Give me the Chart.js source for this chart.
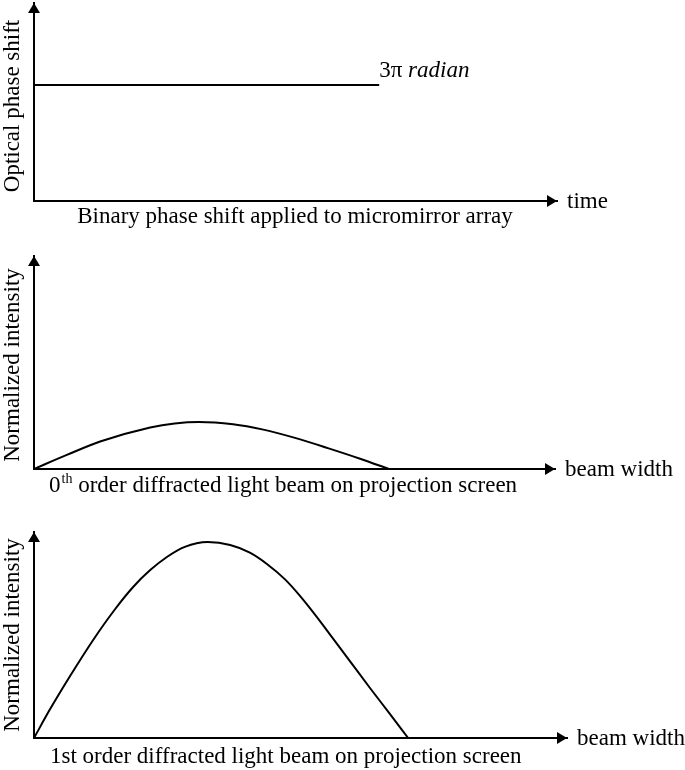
<!DOCTYPE html>
<html>
<head>
<meta charset="utf-8">
<script src="https://cdn.jsdelivr.net/npm/chart.js@4"></script>
<style>
  html, body { margin: 0; padding: 0; background: #ffffff; }
  body { width: 685px; height: 770px; position: relative; overflow: hidden; }
  canvas { position: absolute; left: 0; }
</style>
</head>
<body>
<canvas id="c1" width="685" height="240" style="top:0px"></canvas>
<canvas id="c2" width="685" height="260" style="top:240px"></canvas>
<canvas id="c3" width="685" height="270" style="top:500px"></canvas>
<script>
// ---- data (axis units: 0..100 of each axis length) ----
const phaseTime = [0, 66];
const phaseShift = [58.6, 58.6];

const beamPos0 = [0, 6.3, 12.7, 22.3, 27.0, 31.7, 38.2, 43.8, 50.1, 56.4, 62.6, 68.1];
const intensity0 = [0, 6.6, 12.9, 19.5, 21.4, 22.1, 21.0, 18.6, 14.6, 9.8, 4.8, 0];

const beamPos1 = [0, 3.0, 6.8, 11.1, 15.2, 18.6, 21.8, 25.0, 28.3, 32.6, 36.8, 40.5, 43.7, 47.1, 49.9, 52.9, 55.9, 59.3, 63.0, 66.8, 70.2];
const intensity1 = [0, 13.9, 30.2, 47.6, 62.5, 73.3, 81.5, 88.0, 92.8, 95.1, 93.7, 90.0, 84.5, 77.0, 69.0, 59.3, 49.0, 37.2, 24.4, 11.6, 0];

// ---- texts ----
const yTitles = ['Optical phase shift', 'Normalized intensity', 'Normalized intensity'];
const xEndLabels = ['time', 'beam width', 'beam width'];
const levelLabel = ['3\u03C0', 'radian'];
const caption1 = 'Binary phase shift applied to micromirror array';
const caption2 = ['0', 'th', ' order diffracted light beam on projection screen'];
const caption3 = '1st order diffracted light beam on projection screen';

const FONT = '"Liberation Serif", "Times New Roman", serif';

function pts(xs, ys) { return xs.map((x, i) => ({ x: x, y: ys[i] })); }

function arrowsAndTexts(opts) {
  return {
    id: 'arrows' + opts.idx,
    afterDraw(chart) {
      const ctx = chart.ctx;
      const a = chart.chartArea;
      ctx.save();
      ctx.fillStyle = '#000';
      // y arrow head
      ctx.beginPath();
      ctx.moveTo(a.left, a.top);
      ctx.lineTo(a.left - 6, a.top + 10);
      ctx.lineTo(a.left + 6, a.top + 10);
      ctx.closePath();
      ctx.fill();
      // x arrow head
      ctx.beginPath();
      ctx.moveTo(a.right, a.bottom);
      ctx.lineTo(a.right - 10, a.bottom - 6);
      ctx.lineTo(a.right - 10, a.bottom + 6);
      ctx.closePath();
      ctx.fill();
      // rotated y title
      ctx.font = '23px ' + FONT;
      ctx.textBaseline = 'alphabetic';
      ctx.textAlign = 'center';
      ctx.save();
      ctx.translate(19, opts.yTitleCenter);
      ctx.rotate(-Math.PI / 2);
      ctx.fillText(yTitles[opts.idx], 0, 0);
      ctx.restore();
      // x end label
      ctx.textAlign = 'left';
      ctx.fillText(xEndLabels[opts.idx], opts.endX, a.bottom + 7);
      // extra
      opts.extra(ctx, chart);
      ctx.restore();
    }
  };
}

function makeChart(id, xs, ys, pad, plugin) {
  return new Chart(document.getElementById(id), {
    type: 'line',
    data: {
      datasets: [{
        data: pts(xs, ys),
        borderColor: '#000',
        borderWidth: 2,
        pointRadius: 0,
        fill: false,
        cubicInterpolationMode: 'monotone'
      }]
    },
    options: {
      responsive: false,
      animation: false,
      devicePixelRatio: 1,
      layout: { padding: pad },
      plugins: { legend: { display: false }, tooltip: { enabled: false }, title: { display: false } },
      scales: {
        x: {
          type: 'linear', min: 0, max: 100,
          grid: { display: false, drawTicks: false },
          ticks: { display: false },
          border: { display: true, color: '#000', width: 2 }
        },
        y: {
          type: 'linear', min: 0, max: 100,
          grid: { display: false, drawTicks: false },
          ticks: { display: false },
          border: { display: true, color: '#000', width: 2 }
        }
      }
    },
    plugins: [plugin]
  });
}

// Panel 1
makeChart('c1', phaseTime, phaseShift, { left: 34, top: 3, right: 128, bottom: 39 },
  arrowsAndTexts({
    idx: 0, yTitleCenter: 106, endX: 567,
    extra(ctx, chart) {
      const xs = chart.scales.x, ys = chart.scales.y;
      const x = xs.getPixelForValue(phaseTime[phaseTime.length - 1]);
      const y = ys.getPixelForValue(phaseShift[phaseShift.length - 1]);
      ctx.textAlign = 'left';
      ctx.font = '23px ' + FONT;
      ctx.fillText(levelLabel[0], x, y - 8);
      const w = ctx.measureText(levelLabel[0] + ' ').width;
      ctx.font = 'italic 23px ' + FONT;
      ctx.fillText(levelLabel[1], x + w, y - 8);
      ctx.font = '23px ' + FONT;
      ctx.textAlign = 'center';
      ctx.fillText(caption1, 295, 223);
    }
  }));

// Panel 2
makeChart('c2', beamPos0, intensity0, { left: 34, top: 16, right: 130, bottom: 31 },
  arrowsAndTexts({
    idx: 1, yTitleCenter: 125, endX: 565,
    extra(ctx) {
      ctx.textAlign = 'left';
      let x = 49;
      const base = 252;
      ctx.font = '23px ' + FONT;
      ctx.fillText(caption2[0], x, base);
      x += ctx.measureText(caption2[0]).width;
      ctx.font = '14px ' + FONT;
      ctx.fillText(caption2[1], x + 1, base - 9);
      x += ctx.measureText(caption2[1]).width + 1;
      ctx.font = '23px ' + FONT;
      ctx.fillText(caption2[2], x, base);
    }
  }));

// Panel 3
makeChart('c3', beamPos1, intensity1, { left: 34, top: 32, right: 118, bottom: 32 },
  arrowsAndTexts({
    idx: 2, yTitleCenter: 135, endX: 577,
    extra(ctx) {
      ctx.textAlign = 'left';
      ctx.font = '23px ' + FONT;
      ctx.fillText(caption3, 50, 263);
    }
  }));
</script>
</body>
</html>
